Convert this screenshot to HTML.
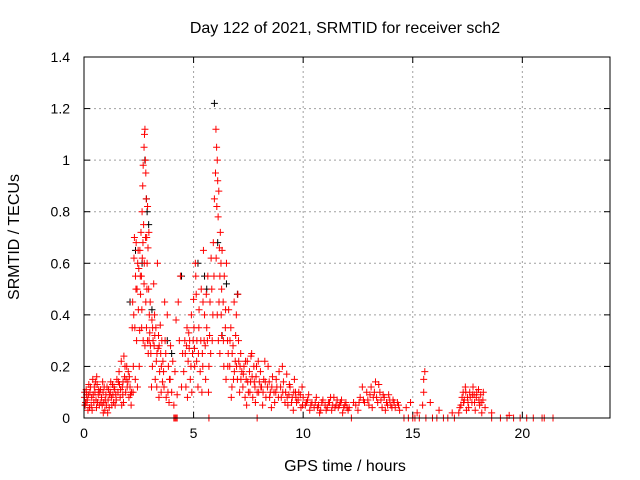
<!DOCTYPE html>
<html><head><meta charset="utf-8"><style>
body{margin:0;background:#fff}
svg{display:block;font-family:"Liberation Sans",sans-serif}
</style></head><body>
<svg id="chart" width="640" height="480" viewBox="0 0 640 480" xmlns="http://www.w3.org/2000/svg">
<rect width="640" height="480" fill="#fff"/>
<g id="grid"></g>
<g id="ticks"></g>
<g id="marks"></g>
<rect x="84" y="57" width="526" height="361" fill="none" stroke="#000" stroke-width="1"/>
<text x="345" y="33" font-size="16" text-anchor="middle">Day 122 of 2021, SRMTID for receiver sch2</text>
<text x="345" y="471" font-size="16" text-anchor="middle">GPS time / hours</text>
<text transform="translate(19,237) rotate(-90)" font-size="16" text-anchor="middle">SRMTID / TECUs</text>
</svg>
<script>
const xTicks=[0,5,10,15,20];
const yTicks=[0,0.2,0.4,0.6,0.8,1,1.2,1.4];
const yTickLabels=["0","0.2","0.4","0.6","0.8","1","1.2","1.4"];
const blackTimes=[2.78,2.85,2.88,2.35,2.65,5.95,6.1,5.5,5.2,4.45,3.8,2.1,6.3,7.0,3.1,0.05,5.6,6.5,2.95,4.0];
const blackValues=[1.0,.85,.8,.65,.6,1.22,.68,.55,.6,.55,.3,.45,.32,.48,.42,.05,.5,.52,.75,.25];
const redTimes=[0.02,0.05,0.1,0.15,0.2,0.25,0.3,0.35,0.4,0.45,0.5,0.55,0.6,0.65,0.7,0.75,0.8,0.85,0.9,0.95,1.0,1.05,1.1,1.15,1.2,1.25,1.3,1.35,1.4,1.45,1.5,
0.03,0.13,0.22,0.33,0.42,0.52,0.62,0.72,0.83,0.92,1.02,1.12,1.22,1.32,1.42,0.18,0.58,0.88,1.08,
1.55,1.6,1.65,1.7,1.75,1.8,1.85,1.9,1.95,2.0,2.05,2.1,2.15,1.62,1.72,1.82,1.92,2.02,2.12,1.78,
2.2,2.22,2.25,2.28,2.3,2.32,2.35,2.38,2.4,2.42,2.45,2.48,2.5,2.52,2.55,2.58,2.24,2.34,2.44,2.54,
2.6,2.62,2.65,2.68,2.7,2.72,2.74,2.76,2.78,2.8,2.82,2.84,2.86,2.88,2.9,2.92,2.95,2.98,2.64,2.7,2.78,2.85,2.93,2.66,2.74,2.82,2.9,2.96,
3.0,3.05,3.1,3.12,3.15,3.18,3.2,3.25,3.28,3.3,3.35,3.38,3.4,3.45,3.5,3.52,3.55,3.58,3.02,3.08,3.22,3.32,3.42,3.48,
3.6,3.65,3.7,3.75,3.8,3.85,3.9,3.95,4.0,4.05,4.1,4.15,4.3,4.35,4.4,4.45,4.5,3.68,3.88,4.2,4.25,
4.1,4.15,4.2,4.25,7.9,12.2,14.6,14.8,15,15.1,15.3,15.6,15.9,16.1,16.4,16.6,16.9,18.6,19.0,19.3,19.6,19.9,20.2,20.5,20.9,21.0,21.4,5.7,
4.55,4.6,4.65,4.7,4.75,4.8,4.85,4.9,4.95,5.0,5.05,5.1,5.15,5.2,5.25,5.3,4.62,4.72,4.82,4.92,5.02,5.12,5.22,5.08,
5.35,5.4,5.45,5.5,5.55,5.6,5.65,5.7,5.75,5.8,5.85,5.9,5.95,5.38,5.48,5.58,5.68,5.78,5.88,5.42,
6.0,6.02,6.05,6.08,6.1,6.12,6.15,6.18,6.2,6.22,6.25,6.28,6.3,6.35,6.4,6.45,6.5,6.55,6.6,6.03,6.08,6.13,6.2,6.28,6.38,6.48,6.58,6.06,
6.65,6.7,6.75,6.8,6.85,6.9,6.95,7.0,7.05,7.1,7.15,7.2,6.72,6.82,6.92,7.02,7.12,
7.25,7.3,7.35,7.4,7.45,7.5,7.55,7.6,7.65,7.7,7.75,7.8,7.85,7.9,7.95,8.0,7.42,7.62,7.82,
8.05,8.1,8.2,8.3,8.4,8.5,8.6,8.7,8.8,8.9,9.0,9.1,9.2,9.3,9.4,9.5,9.6,9.7,9.8,9.9,10.0,8.15,8.45,8.75,9.05,9.35,9.65,9.95,8.25,8.55,9.25,9.55,
10.1,10.2,10.3,10.4,10.5,10.6,10.7,10.8,10.9,11.0,11.1,11.2,11.3,11.4,11.5,11.6,11.7,11.8,11.9,12.0,10.25,10.75,11.25,11.75,
12.1,12.3,12.5,12.6,12.8,12.9,13.0,13.1,13.2,13.3,13.4,13.5,13.6,13.7,13.8,13.9,14.0,14.1,14.2,14.3,14.4,12.7,13.15,13.45,13.75,
14.7,15.2,15.5,15.55,15.5,15.45,15.8,16.2,16.8,14.9,
17.1,17.2,17.3,17.35,17.4,17.5,17.55,17.6,17.7,17.8,17.85,17.9,18.0,18.05,18.1,18.2,18.3,17.45,17.75,18.15,18.6,19.4,
0.07,0.12,0.27,0.37,0.47,0.57,0.67,0.77,0.87,0.97,1.17,1.27,1.37,1.47,1.57,1.67,1.77,1.87,1.97,2.07,2.17,
2.27,2.37,2.47,2.57,2.63,2.69,2.75,2.81,2.87,2.97,3.03,3.13,3.23,3.33,3.43,3.53,3.63,3.73,3.83,3.93,
4.68,4.78,4.88,4.98,5.04,5.14,5.24,5.33,5.43,5.53,5.63,5.73,5.83,5.93,6.16,6.26,6.36,6.46,6.56,6.66,6.76,6.86,6.96,7.06,7.16,
7.27,7.37,7.47,7.57,7.67,7.77,7.87,7.97,8.07,8.17,8.27,8.37,8.47,8.57,8.67,8.77,8.87,8.97,9.07,9.17,9.27,9.37,9.47,9.57,9.67,9.77,9.87,9.97,
10.15,10.35,10.55,10.65,10.85,11.05,11.15,11.35,11.45,11.55,11.65,11.85,11.95,12.05,12.4,12.55,12.75,12.95,13.05,13.25,13.35,13.55,13.65,13.85,13.95,14.05,14.15,14.35,
17.15,17.25,17.32,17.42,17.52,17.62,17.72,17.82,17.92,18.02,18.12,18.22];
const redValues=[.08,.05,.11,.07,.09,.04,.12,.08,.15,.06,.1,.07,.13,.09,.05,.11,.08,.14,.06,.03,.09,.12,.07,.04,.1,.08,.13,.06,.11,.09,.15,
.1,.06,.13,.05,.09,.14,.06,.1,.05,.12,.05,.11,.14,.09,.05,.03,.16,.02,.02,
.1,.18,.08,.22,.12,.06,.16,.1,.2,.14,.08,.12,.05,.13,.05,.24,.15,.18,.09,.14,
.35,.45,.2,.62,.7,.35,.55,.68,.3,.5,.6,.42,.58,.2,.65,.48,.1,.15,.12,.34,
.72,.55,.8,.9,.98,.75,1.05,1.1,1.12,1.0,.95,.85,.7,.6,.82,.66,.5,.4,.42,.3,.28,.35,.25,.62,.52,.45,.3,.72,
.33,.25,.38,.2,.3,.52,.28,.15,.35,.22,.6,.27,.32,.18,.25,.1,.3,.14,.45,.12,.4,.12,.08,.36,
.22,.12,.3,.08,.4,.2,.15,.28,.1,.22,.05,.18,.45,.3,.55,.12,.25,.45,.06,.38,.09,
0,0,0,0,0,0,0,0,0,0,0,0,0,0,0,0,0,0,0,0,0,0,0,0,0,0,0,0,
.18,.3,.12,.35,.22,.27,.15,.4,.25,.46,.2,.55,.3,.12,.42,.18,.25,.08,.3,.1,.35,.48,.25,.6,
.5,.25,.65,.4,.15,.35,.55,.2,.45,.62,.3,.68,.85,.1,.3,.48,.1,.25,.4,.2,
.95,1.12,1.05,1.0,.92,.78,.88,.66,.55,.72,.6,.5,.65,.45,.55,.35,.6,.3,.42,.62,.4,.3,.25,.32,.2,.15,.25,.82,
.2,.35,.12,.28,.45,.22,.4,.15,.3,.1,.25,.18,.08,.15,.32,.48,.2,
.12,.2,.08,.15,.22,.1,.18,.14,.25,.08,.2,.12,.16,.1,.22,.14,.05,.24,.06,
.18,.12,.15,.08,.2,.1,.16,.06,.12,.18,.08,.14,.1,.05,.12,.08,.15,.06,.1,.04,.08,.05,.14,.1,.2,.09,.1,.12,.22,.04,.17,.03,
.05,.07,.03,.06,.04,.08,.05,.03,.07,.05,.04,.06,.03,.08,.05,.04,.06,.02,.05,.04,.09,.02,.08,.07,
.04,.06,.03,.08,.06,.1,.05,.12,.08,.14,.06,.1,.04,.08,.06,.09,.05,.07,.04,.06,.03,.12,.04,.13,.03,
.04,.02,.15,.18,.1,.05,.06,.03,.02,.06,
.02,.05,.1,.07,.12,.08,.04,.1,.06,.09,.03,.08,.11,.05,.09,.07,.04,.03,.12,.02,.02,.01,
.06,.09,.1,.03,.12,.04,.11,.06,.1,.07,.09,.05,.12,.07,.14,.11,.09,.2,.12,.16,.1,
.4,.5,.65,.55,.35,.68,.6,.7,.5,.3,.28,.35,.32,.25,.28,.2,.18,.25,.1,.15,
.28,.33,.2,.3,.27,.22,.35,.3,.45,.28,.3,.32,.5,.55,.45,.4,.3,.42,.2,.3,.25,.18,.2,.22,.15,
.17,.22,.14,.1,.16,.14,.2,.1,.12,.1,.14,.12,.08,.12,.1,.15,.08,.12,.1,.06,.08,.13,.06,.1,.08,.07,.09,.05,
.06,.05,.06,.04,.06,.03,.06,.05,.04,.07,.05,.04,.06,.03,.05,.06,.07,.07,.09,.1,.08,.07,.09,.05,.07,.04,.06,.05,
.04,.08,.06,.1,.06,.08,.09,.06,.1,.07,.06,.1];

const NS="http://www.w3.org/2000/svg";
const X0=84,X1=610,Y0=418,Y1=57;
const xs=t=>X0+t/24*(X1-X0);
const ys=v=>Y0-v/1.4*(Y0-Y1);
const grid=document.getElementById('grid'),ticks=document.getElementById('ticks'),marks=document.getElementById('marks');
function mk(tag,attrs,parent){const e=document.createElementNS(NS,tag);for(const k in attrs)e.setAttribute(k,attrs[k]);parent.appendChild(e);return e;}
xTicks.forEach(t=>{const x=xs(t);
 if(t>0){const g=mk('line',{x1:x,x2:x,y1:Y0,y2:Y1,stroke:'#a0a0a0','stroke-dasharray':'2,3'},grid);
 
 }
 const a=mk('line',{x1:x,x2:x,y1:Y0,y2:Y0-6,stroke:'#000'},ticks);
 
 
 mk('line',{x1:x,x2:x,y1:Y1,y2:Y1+6,stroke:'#000'},ticks);
 const l=mk('text',{x:x,y:Y0+20,'font-size':14,'text-anchor':'middle'},ticks);l.textContent=t;
 
 
});
yTicks.forEach((v,i)=>{const y=ys(v);
 if(v>0&&v<1.4){const g=mk('line',{x1:X0,x2:X1,y1:y,y2:y,stroke:'#a0a0a0','stroke-dasharray':'2,3'},grid);
 
 }
 const a=mk('line',{x1:X0,x2:X0+6,y1:y,y2:y,stroke:'#000'},ticks);
 
 
 mk('line',{x1:X1,x2:X1-6,y1:y,y2:y,stroke:'#000'},ticks);
 const l=mk('text',{x:X0-14,y:y+5,'font-size':14,'text-anchor':'end'},ticks);l.textContent=yTickLabels[i];
 
 
});
function plus(t,v,color,name){const x=xs(t),y=ys(v);
 const p=mk('path',{d:`M${x-3.5} ${y}H${x+3.5}M${x} ${y-3.5}V${y+3.5}`,stroke:color,'stroke-width':1,fill:'none'},marks);
 
 
}
blackTimes.forEach((t,i)=>plus(t,blackValues[i],'#000000','black-point'));
redTimes.forEach((t,i)=>plus(t,redValues[i],'#ff0000','red-point'));
</script>
</body></html>
